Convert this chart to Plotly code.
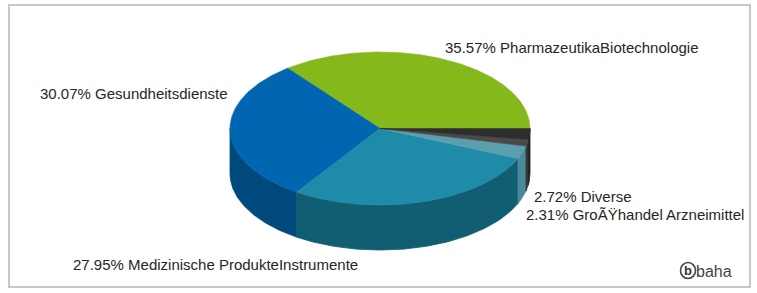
import numpy as np
import plotly.graph_objects as go

# ---- data ----
categories = [
    "PharmazeutikaBiotechnologie",
    "Gesundheitsdienste",
    "Medizinische ProdukteInstrumente",
    "Diverse",
    "",
    "Gro\u00c3\u0178handel Arzneimittel",
]
values = [35.57, 30.07, 27.95, 2.72, 1.38, 2.31]

top_colors = ["#85b81a", "#0066b2", "#1e8ba8", "#5b9fae", "#4a4a4a", "#2e2e2e"]
side_colors = ["#5f8a10", "#00497d", "#115e73", "#4a8a98", "#383838", "#222222"]

# ---- layout geometry (pixels) ----
W, H = 757, 293
CX, CY, RX, RY, DEPTH = 380, 128.5, 150, 76.5, 45

label_pos = {
    0: (443, 47),
    1: (38, 93),
    2: (71, 264),
    3: (532, 196),
    5: (524, 214),
}

fig = go.Figure()

total = sum(values)
bounds = []
a = 0.0
for v in values:
    b = a + 360.0 * v / total
    bounds.append((a, b))
    a = b


def ex(t):
    return CX + RX * np.cos(np.radians(t))


def ey(t):
    return CY - RY * np.sin(np.radians(t))


# side walls (front half only: 180..360 degrees)
for i, (a0, a1) in enumerate(bounds):
    lo, hi = max(a0, 180.0), min(a1, 360.0)
    if lo >= hi:
        continue
    t = np.linspace(lo, hi, 80)
    xs = np.concatenate([ex(t), ex(t[::-1])])
    ys = np.concatenate([ey(t), ey(t[::-1]) + DEPTH])
    fig.add_trace(go.Scatter(
        x=np.append(xs, xs[0]), y=np.append(ys, ys[0]), mode="lines",
        fill="toself", fillcolor=side_colors[i],
        line=dict(color=side_colors[i], width=0.8),
        hoverinfo="skip", showlegend=False,
    ))

# top faces
for i, (a0, a1) in enumerate(bounds):
    n = max(int((a1 - a0) * 1.5), 8)
    t = np.linspace(a0, a1, n)
    xs = np.concatenate([[CX], ex(t), [CX]])
    ys = np.concatenate([[CY], ey(t), [CY]])
    fig.add_trace(go.Scatter(
        x=xs, y=ys, mode="lines", fill="toself", fillcolor=top_colors[i],
        line=dict(color=top_colors[i], width=0.6),
        hoverinfo="skip", showlegend=False,
    ))

annotations = []
for i, (name, v) in enumerate(zip(categories, values)):
    if i not in label_pos:
        continue
    x, y = label_pos[i]
    annotations.append(dict(
        x=x, y=y, xref="x", yref="y", text=f"{v:.2f}% {name}",
        showarrow=False, xanchor="left", yanchor="middle",
        font=dict(family="Liberation Sans, Arial, sans-serif", size=15, color="#262626"),
    ))

# logo
annotations.append(dict(
    x=688, y=270.5, xref="x", yref="y", text="<b>b</b>", showarrow=False,
    xanchor="center", yanchor="middle",
    font=dict(family="Liberation Sans, Arial", size=13, color="#333333"),
))
annotations.append(dict(
    x=694, y=271, xref="x", yref="y", text="baha", showarrow=False,
    xanchor="left", yanchor="middle",
    font=dict(family="Liberation Sans, Arial", size=16, color="#444444"),
))

shapes = [
    dict(type="rect", xref="x", yref="y", x0=9, y0=5, x1=750, y1=287,
         line=dict(color="#c8c8c8", width=2), fillcolor="rgba(0,0,0,0)", layer="below"),
    dict(type="circle", xref="x", yref="y", x0=680.5, y0=262.5, x1=695.5, y1=278.5,
         line=dict(color="#444444", width=1.6)),
]

fig.update_layout(
    width=W, height=H,
    margin=dict(l=0, r=0, t=0, b=0),
    paper_bgcolor="white", plot_bgcolor="white",
    xaxis=dict(range=[0, W], visible=False, fixedrange=True),
    yaxis=dict(range=[H, 0], visible=False, fixedrange=True),
    showlegend=False,
    annotations=annotations,
    shapes=shapes,
)

fig.write_html(
    "out.html",
    config={"displayModeBar": False},
    post_script="document.body.style.margin='0';document.body.style.overflow='hidden';",
)
